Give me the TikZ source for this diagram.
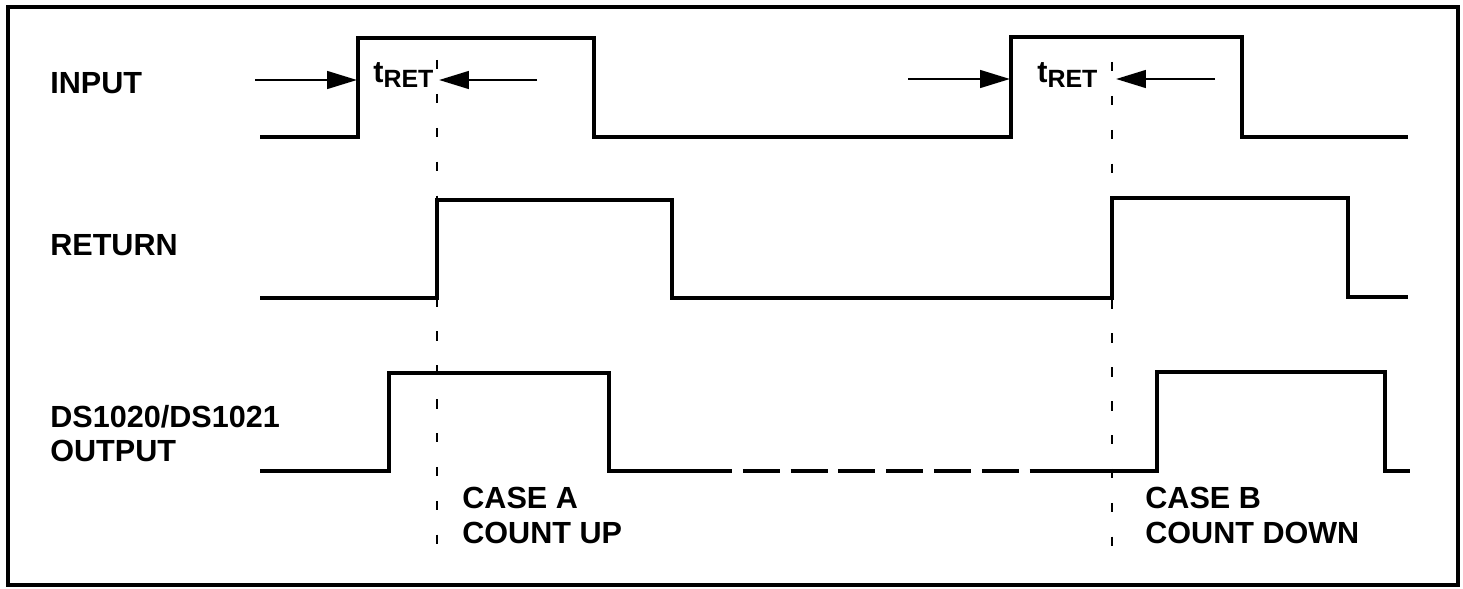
\documentclass[tikz,border=0pt]{standalone}
\usepackage{fontspec}
\setmainfont{Liberation Sans}
\usetikzlibrary{arrows.meta,positioning}

\newcommand{\tret}{t\raisebox{-2.8pt}{\fontsize{14.2}{14.2}\selectfont RET}}

\begin{document}
\begin{tikzpicture}[
    x=0.02cm, y=-0.02cm,
    sig/.style={line width=2.1pt, line join=miter},
    lbl/.style={anchor=base west, inner sep=0pt, font=\bfseries\fontsize{17.4}{19.5}\selectfont},
    guide/.style={line width=1.5pt, dash pattern=on 5.4pt off 13.9pt},
    tarrow/.style={line width=1.5pt, -{Triangle[length=17pt,width=10pt]}}
]
    \useasboundingbox (0,0) rectangle (1463,588);
    \draw[line width=1.9pt] (8,7) rectangle (1458,585);

    % Signal names
    \node[lbl] (lin) at (50,93) {INPUT};
    \node[lbl] (lret) at (50,255) {RETURN};
    \node[lbl] (lout1) at (50,427) {DS1020/DS1021};
    \node[lbl] (lout2) at (50,461) {OUTPUT};

    % Waveforms
    \draw[sig] (260,137) -- (358,137) -- (358,38) -- (594,38) -- (594,137) -- (1011,137)
        -- (1011,37) -- (1242,37) -- (1242,137) -- (1408,137);
    \draw[sig] (260,298) -- (437,298) -- (437,200) -- (672,200) -- (672,298) -- (1112,298)
        -- (1112,198) -- (1348,198) -- (1348,297) -- (1408,297);
    \draw[sig] (260,471) -- (389,471) -- (389,373) -- (609,373) -- (609,471) -- (732,471);
    \draw[sig, dash pattern=on 21pt off 6.2pt, dash phase=21pt] (732,471) -- (1032,471);
    \draw[sig] (1032,471) -- (1157,471) -- (1157,372) -- (1385,372) -- (1385,471) -- (1410,471);

    % Return sample points
    \coordinate (gAtop) at (437,60);
    \coordinate (gAbot) at (437,548);
    \coordinate (gBtop) at (1112,62);
    \coordinate (gBbot) at (1112,548);
    \draw[guide] (gAtop) -- (gAbot);
    \draw[guide] (gBtop) -- (gBbot);

    % tRET markers
    \node[lbl] (tA) at (373,83) {\tret};
    \node[lbl] (tB) at (1037,83) {\tret};

    \coordinate (aA0) at (255,80);
    \coordinate (aA1) at (357,80);
    \coordinate (aA2) at (537,80);
    \coordinate (aA3) at (439,80);
    \coordinate (aB0) at (908,79);
    \coordinate (aB1) at (1010,79);
    \coordinate (aB2) at (1215,79);
    \coordinate (aB3) at (1116,79);
    \draw[tarrow] (aA0) -- (aA1);
    \draw[tarrow] (aA2) -- (aA3);
    \draw[tarrow] (aB0) -- (aB1);
    \draw[tarrow] (aB2) -- (aB3);

    % Cases
    \node[lbl] (caseA) at (462,508) {CASE A};
    \node[lbl] (cntA) at (462,543) {COUNT UP};
    \node[lbl] (caseB) at (1145,508) {CASE B};
    \node[lbl] (cntB) at (1145,543) {COUNT DOWN};
\end{tikzpicture}
\end{document}
